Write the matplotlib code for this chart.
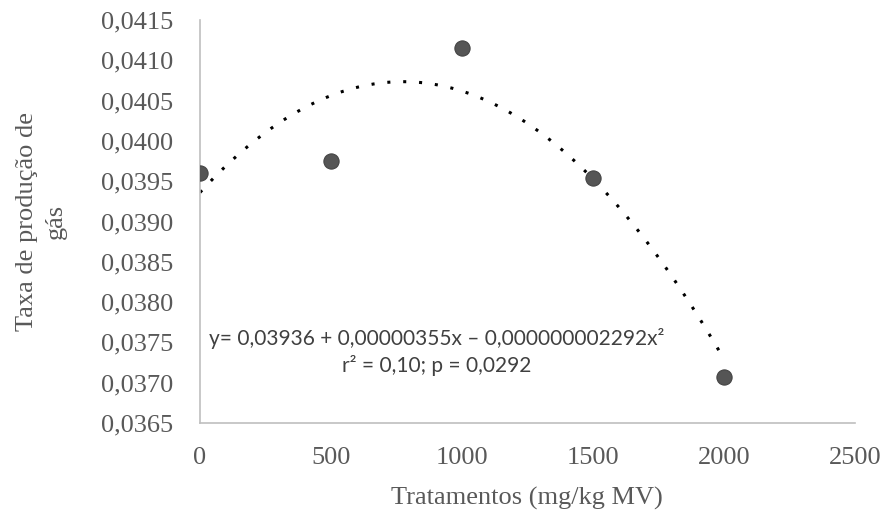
import numpy as np
import matplotlib
matplotlib.use("Agg")
import matplotlib.pyplot as plt
from matplotlib.ticker import FuncFormatter, MultipleLocator

# data
doses = [0, 500, 1000, 1500, 2000]
taxa = [0.03960, 0.03975, 0.04115, 0.03954, 0.03707]

# quadratic trend (coefficients as printed on the chart)
coef = [-0.000000002292, 0.00000355, 0.03936]
equation = "y= 0,03936 + 0,00000355x \u2013 0,000000002292x\u00b2"
stats = "r\u00b2 = 0,10; p = 0,0292"

x_ticks = [0, 500, 1000, 1500, 2000, 2500]
y_min, y_max, y_step = 0.0365, 0.0415, 0.0005

grey = "#595959"

fig = plt.figure(figsize=(8.84, 5.19), dpi=100)
ax = fig.add_axes([0.2262, 0.185, 0.741, 0.7765])

xs = np.linspace(min(doses), max(doses), 200)
ax.plot(xs, np.polyval(coef, xs), color="black", lw=2.2,
        linestyle=(0, (1, 4.2)), dash_capstyle="butt", zorder=2)
ax.scatter(doses, taxa, s=120, color="#555555", edgecolors="#444444",
           linewidths=0.8, zorder=3)

ax.set_xlim(0, 2500)
ax.set_ylim(y_min, y_max)
ax.set_xticks(x_ticks)
ax.yaxis.set_major_locator(MultipleLocator(y_step))
ax.yaxis.set_major_formatter(FuncFormatter(lambda v, p: f"{v:.4f}".replace(".", ",")))

serif = "Liberation Serif"
for lab in ax.get_xticklabels() + ax.get_yticklabels():
    lab.set_fontfamily(serif)
    lab.set_fontsize(19)
    lab.set_color(grey)
ax.tick_params(axis="both", length=0)
ax.tick_params(axis="y", pad=19)
ax.tick_params(axis="x", pad=17)

for side in ["top", "right"]:
    ax.spines[side].set_visible(False)
for side in ["left", "bottom"]:
    ax.spines[side].set_color("#bfbfbf")
    ax.spines[side].set_linewidth(1.2)

fig.text(0.5962, 0.04, "Tratamentos (mg/kg MV)", ha="center", va="center",
         fontfamily=serif, fontsize=19, color=grey)
fig.text(0.047, 0.573, "Taxa de produção de\ngás", ha="center", va="center",
         rotation=90, fontfamily=serif, fontsize=19, color=grey, linespacing=1.45)

ax.text(905, 0.03738, equation + "\n" + stats, ha="center", va="center",
        fontfamily="Lato", fontsize=15, color="#404040", linespacing=1.35)

fig.savefig("out.png", dpi=100)
